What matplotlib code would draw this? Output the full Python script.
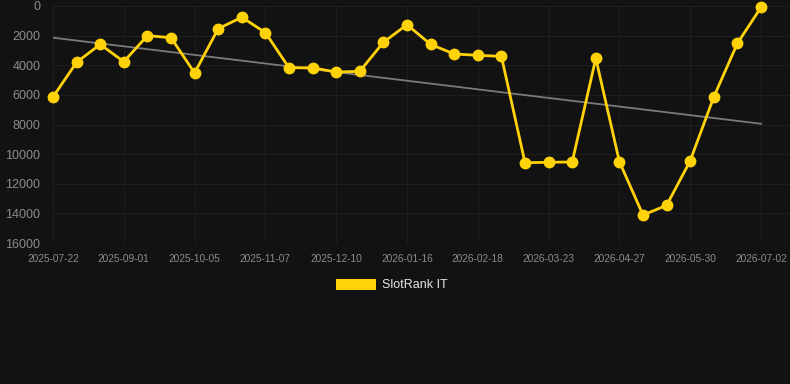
import matplotlib
matplotlib.use("Agg")
import matplotlib.pyplot as plt
from matplotlib.patches import Rectangle
import numpy as np

plt.rcParams['font.family'] = ['Liberation Sans', 'DejaVu Sans']

tick_labels = ["2025-07-22", "2025-09-01", "2025-10-05", "2025-11-07", "2025-12-10",
               "2026-01-16", "2026-02-18", "2026-03-23", "2026-04-27", "2026-05-30",
               "2026-07-02"]
rank_values = [6140, 3800, 2590, 3760, 2000, 2140, 4520, 1530, 760, 1800,
               4170, 4170, 4460, 4410, 2450, 1260, 2590, 3240, 3330, 3400,
               10580, 10550, 10530, 3530, 10510, 14110, 13460, 10450, 6140, 2520,
               90]
trend_start_end = [2140, 7950]
series_name = "SlotRank IT"

W, H = 790, 384
fig = plt.figure(figsize=(W / 100, H / 100), dpi=100)
bg = "#121212"
fig.patch.set_facecolor(bg)

left, right, top, bottom = 53, 790, 6, 243
ax = fig.add_axes([left / W, 1 - bottom / H, (right - left) / W, (bottom - top) / H])
ax.set_facecolor(bg)

n = len(rank_values)
x = np.arange(n)
step = (761 - 53) / (n - 1)
ax.set_xlim(0, (right - left) / step)
ax.set_ylim(16000, 0)

ax.plot([0, n - 1], trend_start_end, color="#7a7a7a", lw=1.3, zorder=2)
ax.plot(x, rank_values, color="#FFD20A", lw=2.0, marker="o", markersize=7.5,
        markerfacecolor="#FFD20A", markeredgecolor="#FFD20A", zorder=3, clip_on=False)

ax.set_yticks(np.arange(0, 16001, 2000))
ax.set_yticklabels([str(v) for v in range(0, 16001, 2000)])
ax.set_xticks(np.arange(0, n, 3))
ax.set_xticklabels(tick_labels)

ax.grid(True, color="#1e1e1e", lw=0.8)
ax.set_axisbelow(True)
for s in ax.spines.values():
    s.set_visible(False)
ax.tick_params(axis="y", colors="#8c8c8c", labelsize=9, length=0, pad=9)
ax.tick_params(axis="x", colors="#8c8c8c", labelsize=7.3, length=0, pad=8)
ax.axhline(16000, color="#2a2a2a", lw=0.8, zorder=1)

# legend
fig.add_artist(Rectangle((336 / W, 1 - 290 / H), 40 / W, 11 / H,
                         transform=fig.transFigure, facecolor="#FFD20A",
                         edgecolor="none"))
fig.text(382 / W, 1 - 285 / H, series_name, color="#e6e6e6", fontsize=9,
         va="center", ha="left")

fig.savefig("out.png", dpi=100, facecolor=bg)
